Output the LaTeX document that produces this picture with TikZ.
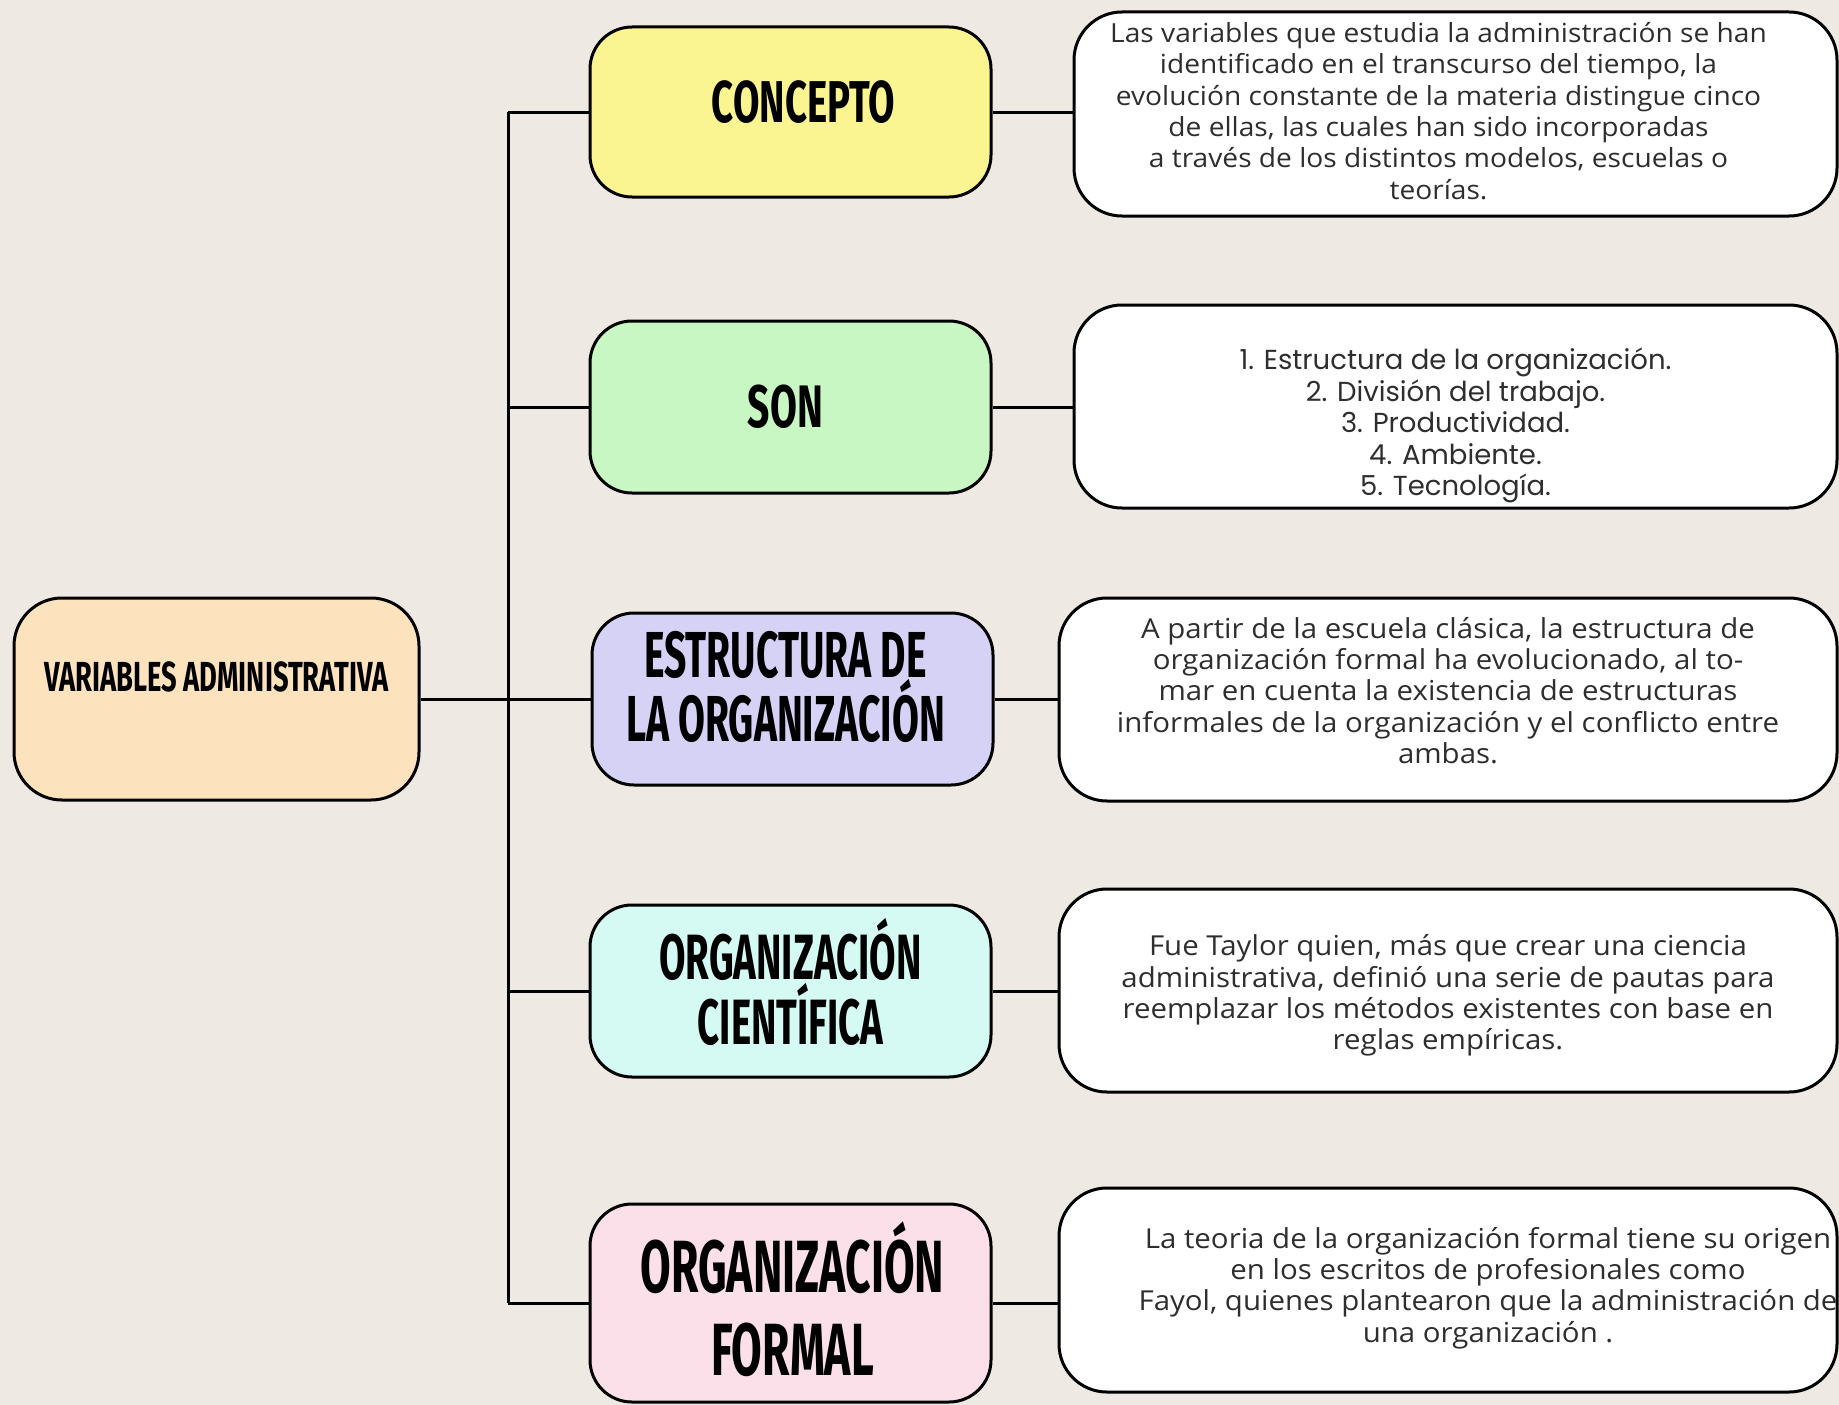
\documentclass[tikz,border=0pt]{standalone}
\usepackage{fontspec}
\setmainfont[FakeStretch=1.07]{Open Sans}
\newfontfamily\listfont{Poppins}
\newfontfamily\ttlfont[FakeStretch=0.65]{Fira Sans}
\newfontfamily\ttlnarrow[FakeStretch=0.6]{Fira Sans}
\newcommand\mlines[1]{\makebox[0pt]{\parbox{1000pt}{\centering #1}}}
\newcommand\shiftxy[3]{\hspace*{#1}\raisebox{#2}[\height][\depth]{#3}\hspace*{-#1}}
\definecolor{paper}{HTML}{EEEAE3}
\definecolor{cpeach}{HTML}{FDE2BE}
\definecolor{cyellow}{HTML}{FBF591}
\definecolor{cgreen}{HTML}{C9F7C4}
\definecolor{clav}{HTML}{D5D2F6}
\definecolor{ccyan}{HTML}{D4FAF3}
\definecolor{cpink}{HTML}{FBDFE9}
\definecolor{txtgray}{HTML}{2E2E2E}
\begin{document}
\begin{tikzpicture}[x=1pt,y=-1pt,
  box/.style={draw=black, line width=3pt, rounded corners=42pt, inner sep=0pt, align=center},
  midbox/.style={box, minimum width=401pt, minimum height=172pt, text=black},
  rbox/.style={box, fill=white, rounded corners=48pt, minimum height=204pt, text=txtgray,
    font=\fontsize{27.5}{31.4}\selectfont},
  conn/.style={draw=black, line width=3pt}]
\fill[paper] (0,0) rectangle (1839,1405);
\useasboundingbox (0,0) rectangle (1839,1405);

% root
\node[box, fill=cpeach, minimum width=405pt, minimum height=202pt, rounded corners=48pt,
  font=\ttlfont\bfseries\fontsize{42}{42}\selectfont] (root) at (216.5,699)
  {\shiftxy{0pt}{22pt}{VARIABLES ADMINISTRATIVA}};

% middle column
\node[midbox, fill=cyellow, minimum height=170pt, font=\ttlfont\bfseries\fontsize{59}{59}\selectfont]
  (concepto) at (790.5,112) {\shiftxy{13pt}{10pt}{CONCEPTO}};
\node[midbox, fill=cgreen, font=\ttlfont\bfseries\fontsize{60}{60}\selectfont]
  (son) at (790.5,407) {\shiftxy{-5pt}{0pt}{SON}};
\node[midbox, fill=clav, font=\ttlnarrow\bfseries\fontsize{65}{63}\selectfont]
  (estr) at (792.5,699) {\shiftxy{-7pt}{12pt}{\mlines{ESTRUCTURA DE\\LA ORGANIZACIÓN}}};
\node[midbox, fill=ccyan, font=\ttlnarrow\bfseries\fontsize{64}{64.5}\selectfont]
  (cient) at (790.5,991) {\shiftxy{0pt}{9pt}{\mlines{ORGANIZACIÓN\\CIENTÍFICA}}};
\node[midbox, fill=cpink, minimum height=198pt, font=\ttlnarrow\bfseries\fontsize{74}{83}\selectfont]
  (formal) at (790.5,1303) {\shiftxy{2pt}{4pt}{\mlines{ORGANIZACIÓN\\FORMAL}}};

% right column
\node[rbox, minimum width=763pt, font=\fontsize{26.3}{31.4}\selectfont] (r1) at (1455.5,114)
  {\shiftxy{-17pt}{3pt}{\mlines{Las variables que estudia la administración se han\\
  identificado en el transcurso del tiempo, la\\
  evolución constante de la materia distingue cinco\\
  de ellas, las cuales han sido incorporadas\\
  a través de los distintos modelos, escuelas o\\
  teorías.}}};
\node[rbox, minimum width=763pt, minimum height=203pt, font=\listfont\fontsize{27.5}{31.4}\selectfont] (r2) at (1455.5,406.5)
  {\shiftxy{0pt}{-19pt}{\mlines{1. Estructura de la organización.\\
  2. División del trabajo.\\
  3. Productividad.\\
  4. Ambiente.\\
  5. Tecnología.}}};
\node[rbox, minimum width=778pt, minimum height=203pt] (r3) at (1448,699.5)
  {\shiftxy{0pt}{9pt}{\mlines{A partir de la escuela clásica, la estructura de\\
  organización formal ha evolucionado, al to-\\
  mar en cuenta la existencia de estructuras\\
  informales de la organización y el conflicto entre\\
  ambas.}}};
\node[rbox, minimum width=778pt, minimum height=203pt] (r4) at (1448,990.5)
  {\shiftxy{0pt}{-5pt}{\mlines{Fue Taylor quien, más que crear una ciencia\\
  administrativa, definió una serie de pautas para\\
  reemplazar los métodos existentes con base en\\
  reglas empíricas.}}};
\node[rbox, minimum width=778pt] (r5) at (1448,1290)
  {\shiftxy{40pt}{2pt}{\mlines{La teoria de la organización formal tiene su origen\\
  en los escritos de profesionales como\\
  Fayol, quienes plantearon que la administración de\\
  una organización .}}};

% connectors
\coordinate (tt) at (508,112);
\coordinate (tb) at (508,1303);
\draw[conn] (tt) -- (tb);
\draw[conn] (root.east) -- (estr.west);
\draw[conn] (tt) -- (concepto.west);
\draw[conn] (son.west -| tt) -- (son.west);
\draw[conn] (cient.west -| tt) -- (cient.west);
\draw[conn] (tb) -- (formal.west);
\draw[conn] (concepto.east) -- (concepto.east -| r1.west);
\draw[conn] (son.east) -- (son.east -| r2.west);
\draw[conn] (estr.east) -- (estr.east -| r3.west);
\draw[conn] (cient.east) -- (cient.east -| r4.west);
\draw[conn] (formal.east) -- (formal.east -| r5.west);
\end{tikzpicture}
\end{document}
